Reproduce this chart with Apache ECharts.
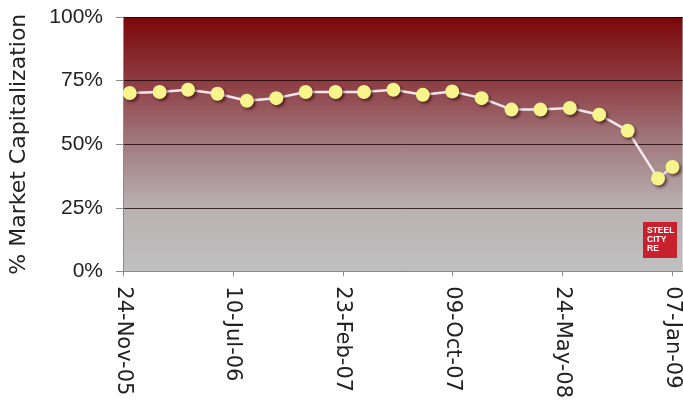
<!DOCTYPE html>
<html>
<head>
<meta charset="utf-8">
<script src="https://cdn.jsdelivr.net/npm/echarts@6/dist/echarts.min.js"></script>
<style>
  html, body { margin: 0; padding: 0; background: #ffffff; }
  #chart { width: 683px; height: 401px; }
</style>
</head>
<body>
<div id="chart"></div>
<script>
// Observation dates (roughly bi-monthly) and share of market capitalisation, in %
const obsDates = [
  '2005-12-08', '2006-02-08', '2006-04-08', '2006-06-08', '2006-08-08',
  '2006-10-08', '2006-12-08', '2007-02-08', '2007-04-08', '2007-06-08',
  '2007-08-08', '2007-10-08', '2007-12-08', '2008-02-08', '2008-04-08',
  '2008-06-08', '2008-08-08', '2008-10-06', '2008-12-08', '2009-01-07'
];
const marketCapPct = [
  70.1, 70.5, 71.4, 69.8, 67.1,
  68.1, 70.5, 70.5, 70.5, 71.4,
  69.4, 70.7, 68.1, 63.6, 63.6,
  64.2, 61.6, 55.3, 36.5, 41.0
];

// Date axis: starts on the first tick date; ticks every 228 days
const axisStartDate = '2005-11-24';
const tickDates = ['2005-11-24', '2006-07-10', '2007-02-23', '2007-10-09', '2008-05-24', '2009-01-07'];
const axisEndDays = 1161;
const monthNames = ['Jan','Feb','Mar','Apr','May','Jun','Jul','Aug','Sep','Oct','Nov','Dec'];

// Percentage axis
const pctTicks = [0, 25, 50, 75, 100];

const DAY_MS = 86400000;
const t0 = Date.parse(axisStartDate + 'T00:00:00Z');
function dayOffset(s) {
  return Math.round((Date.parse(s + 'T00:00:00Z') - t0) / DAY_MS);
}
function formatDay(d) {
  const dt = new Date(t0 + d * DAY_MS);
  const dd = String(dt.getUTCDate()).padStart(2, '0');
  const yy = String(dt.getUTCFullYear() % 100).padStart(2, '0');
  return dd + '-' + monthNames[dt.getUTCMonth()] + '-' + yy;
}

const tickDays = tickDates.map(dayOffset);
const seriesData = obsDates.map((d, i) => [dayOffset(d), marketCapPct[i]]);

const chart = echarts.init(document.getElementById('chart'), null, { renderer: 'canvas' });

chart.setOption({
  animation: false,
  grid: {
    left: 123, top: 17, right: 0, bottom: 128,
    show: true,
    borderWidth: 0,
    backgroundColor: new echarts.graphic.LinearGradient(0, 0, 0, 1, [
      { offset: 0.00, color: '#7a0708' },
      { offset: 0.25, color: '#8d3c42' },
      { offset: 0.50, color: '#a27b7f' },
      { offset: 0.75, color: '#b9b1b2' },
      { offset: 1.00, color: '#c0c0c0' }
    ])
  },
  xAxis: {
    type: 'value',
    min: 0,
    max: axisEndDays,
    axisLine: { show: true, lineStyle: { color: '#8a8a8a', width: 1 } },
    axisTick: {
      show: true, inside: false, length: 5,
      lineStyle: { color: '#8a8a8a' },
      customValues: tickDays
    },
    axisLabel: {
      rotate: -90,
      margin: 15,
      color: '#222222',
      fontFamily: 'DejaVu Sans',
      fontSize: 21,
      customValues: tickDays,
      formatter: v => formatDay(v)
    },
    splitLine: { show: false }
  },
  yAxis: {
    type: 'value',
    min: pctTicks[0],
    max: pctTicks[pctTicks.length - 1],
    interval: pctTicks[1] - pctTicks[0],
    name: '% Market Capitalization',
    nameLocation: 'middle',
    nameGap: 93,
    nameRotate: 90,
    nameTextStyle: {
      color: '#222222',
      fontFamily: 'DejaVu Sans',
      fontSize: 22
    },
    axisLine: { show: true, lineStyle: { color: '#8a8a8a', width: 1 } },
    axisTick: { show: true, inside: false, length: 7, lineStyle: { color: '#8a8a8a' } },
    axisLabel: {
      margin: 20,
      color: '#222222',
      fontFamily: 'Liberation Sans, Arial, sans-serif',
      fontSize: 21,
      formatter: '{value}%'
    },
    splitLine: { show: true, lineStyle: { color: 'rgba(25,5,5,0.8)', width: 1 } }
  },
  series: [{
    type: 'line',
    data: seriesData,
    symbol: 'circle',
    symbolSize: 14,
    showSymbol: true,
    lineStyle: { color: '#f4e8ee', width: 2.5 },
    itemStyle: {
      color: '#f8f48c',
      borderWidth: 0,
      shadowColor: 'rgba(40,0,0,0.6)',
      shadowBlur: 3,
      shadowOffsetX: 2,
      shadowOffsetY: 2
    },
    emphasis: { disabled: true },
    z: 5
  }],
  graphic: [{
    type: 'group',
    left: 643, top: 222,
    children: [
      { type: 'rect', shape: { x: 0, y: 0, width: 34, height: 36 }, style: { fill: '#c8202d' } },
      {
        type: 'text', x: 4, y: 4,
        style: {
          text: 'STEEL\nCITY\nRE',
          fill: '#ffffff',
          font: 'bold 8.5px "Liberation Sans", Arial, sans-serif',
          lineHeight: 9
        }
      }
    ]
  }]
});
</script>
</body>
</html>
